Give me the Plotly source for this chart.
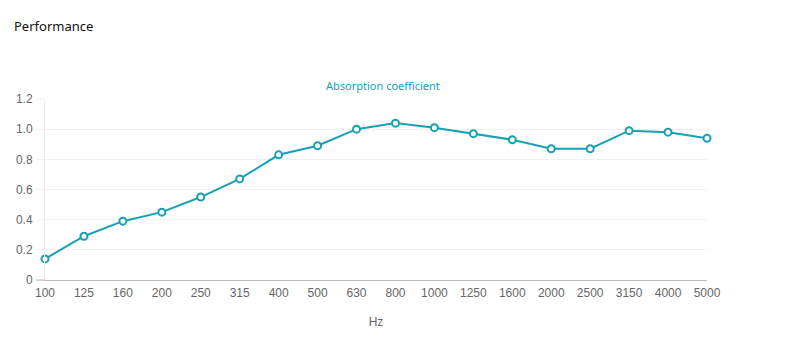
import plotly.graph_objects as go

freqs = ["100", "125", "160", "200", "250", "315", "400", "500", "630", "800",
         "1000", "1250", "1600", "2000", "2500", "3150", "4000", "5000"]
absorption = [0.14, 0.29, 0.39, 0.45, 0.55, 0.67, 0.83, 0.89, 1.00, 1.04,
              1.01, 0.97, 0.93, 0.87, 0.87, 0.99, 0.98, 0.94]
y_tickvals = [0, 0.2, 0.4, 0.6, 0.8, 1.0, 1.2]
y_ticktext = ["0", "0.2", "0.4", "0.6", "0.8", "1.0", "1.2"]

teal = "#17a0b4"

fig = go.Figure(go.Scatter(
    x=list(range(len(freqs))), y=absorption, mode="lines+markers",
    line=dict(color=teal, width=2),
    marker=dict(size=7, color="white", line=dict(color=teal, width=2)),
    cliponaxis=False, hoverinfo="skip",
))

fig.update_layout(
    width=785, height=357,
    margin=dict(l=37, r=86, t=91, b=85),
    paper_bgcolor="white", plot_bgcolor="white",
    showlegend=False,
    font=dict(family="Liberation Sans, Arial", color="#666666", size=12),
    annotations=[
        dict(text="Performance", xref="paper", yref="paper", x=-33/662, y=1 + 73/181,
             xanchor="left", yanchor="middle", showarrow=False,
             font=dict(family="Noto Sans, Open Sans", size=13, color="#111111")),
        dict(text="Absorption coefficient", xref="paper", yref="paper", x=(383-45)/662, y=1 + 14/181,
             xanchor="center", yanchor="middle", showarrow=False,
             font=dict(family="Noto Sans, Open Sans", size=11, color=teal)),
    ],
    shapes=[
        dict(type="line", xref="paper", yref="paper", x0=-9/662, x1=0, y0=0, y1=0,
             line=dict(color="#bbbbbb", width=1)),
    ],
)
fig.update_xaxes(
    range=[0, len(freqs) - 1], tickvals=list(range(len(freqs))), ticktext=freqs,
    showgrid=False, zeroline=False, showline=True, linecolor="#bbbbbb", linewidth=1,
    ticks="outside", ticklen=2, tickcolor="rgba(0,0,0,0)", tickfont=dict(size=12, color="#666666"),
    title=dict(text="Hz", font=dict(size=12, color="#666666"), standoff=18),
    automargin=False,
)
fig.update_yaxes(
    range=[0, 1.2], tickvals=y_tickvals, ticktext=y_ticktext,
    showgrid=True, gridcolor="#f0f0f0", zeroline=False,
    showline=True, linecolor="#eeeeee", ticks="outside", ticklen=8, tickcolor="#f0f0f0",
    tickfont=dict(size=12, color="#666666"), ticklabelstandoff=1,
    automargin=False,
)

fig.write_html("out.html")
